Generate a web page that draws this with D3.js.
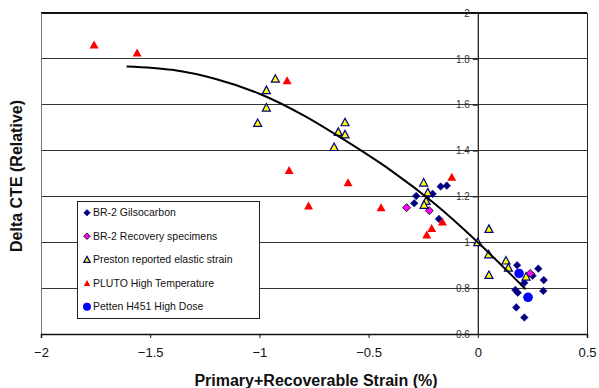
<!DOCTYPE html>
<html><head><meta charset="utf-8">
<script src="https://cdn.jsdelivr.net/npm/d3@7"></script>
<style>body{margin:0;background:#fff}svg{display:block;font-family:"Liberation Sans",Arial,sans-serif}</style>
</head><body><svg id="c" width="599" height="388"></svg>
<script>
const xTicks = [-2, -1.5, -1, -0.5, 0, 0.5];
const yTicks = [0.6, 0.8, 1, 1.2, 1.4, 1.6, 1.8, 2];
const seriesNames = ["BR-2 Gilsocarbon", "BR-2 Recovery specimens", "Preston reported elastic strain", "PLUTO High Temperature", "Petten H451 High Dose"];
const gilso = [[-0.282,1.202],[-0.291,1.17],[-0.207,1.211],[-0.17,1.243],[-0.142,1.247],[-0.178,1.102],[-0.225,1.208],[0.18,0.9],[0.277,0.885],[0.251,0.854],[0.302,0.835],[0.213,0.823],[0.172,0.792],[0.183,0.78],[0.3,0.788],[0.176,0.716],[0.213,0.672]];
const recovery = [[-0.326,1.151],[-0.222,1.138],[0.24,0.864]];
const preston = [[-0.927,1.713],[-0.968,1.663],[-0.968,1.587],[-1.008,1.52],[-0.608,1.523],[-0.639,1.481],[-0.608,1.47],[-0.658,1.415],[-0.248,1.26],[-0.229,1.217],[-0.237,1.18],[-0.246,1.163],[0.051,1.058],[0,1.0],[0.05,0.947],[0.129,0.92],[0.14,0.889],[0.051,0.857],[0.221,0.85]];
const pluto = [[-1.757,1.861],[-1.56,1.826],[-0.873,1.705],[-0.864,1.313],[-0.775,1.159],[-0.594,1.26],[-0.443,1.151],[-0.119,1.284],[-0.162,1.089],[-0.211,1.061],[-0.234,1.032]];
const petten = [[0.189,0.864],[0.23,0.76]];
const trend = [[-1.608,1.767],[-1.4,1.752],[-1.2,1.712],[-1.0,1.648],[-0.8,1.555],[-0.6,1.44],[-0.4,1.315],[-0.2,1.17],[0,1.0],[0.219,0.795]];

const svg = d3.select("#c");
const x = d3.scaleLinear().domain([-2, 0.5]).range([41, 587]);
const y = d3.scaleLinear().domain([0.6, 2]).range([334, 13]);

// gridlines
svg.append("g").selectAll("line").data(yTicks.filter(v => v > 0.6)).join("line")
  .attr("x1", x(-2)).attr("x2", x(0.5)).attr("y1", d => y(d)).attr("y2", d => y(d))
  .attr("stroke", d => d === 2 ? "#111" : "#333").attr("stroke-width", d => d === 2 ? 1.5 : 1).attr("shape-rendering", "crispEdges");
svg.append("line").attr("x1", x(-2)).attr("x2", x(-2)).attr("y1", y(2)).attr("y2", y(0.6)).attr("stroke", "#777").attr("shape-rendering", "crispEdges");
svg.append("line").attr("x1", x(0.5)).attr("x2", x(0.5)).attr("y1", y(2)).attr("y2", y(0.6)).attr("stroke", "#222").attr("shape-rendering", "crispEdges");

// x axis
const xAxis = svg.append("g").attr("transform", `translate(0,${y(0.6)})`)
  .call(d3.axisBottom(x).tickValues(xTicks).tickSize(4).tickFormat(d3.format("")));
xAxis.select(".domain").attr("stroke", "#111").attr("stroke-width", 1.5);
xAxis.selectAll(".tick line").attr("stroke", "#111");
xAxis.selectAll("text").attr("font-size", 13).attr("font-family", "Liberation Sans, Arial").attr("fill", "#111").attr("dy", "1.2em");

// y axis at x=0
const yAxis = svg.append("g").attr("transform", `translate(${x(0)},0)`)
  .call(d3.axisLeft(y).tickValues(yTicks).tickSize(5).tickPadding(3).tickFormat(d3.format("")));
yAxis.select(".domain").attr("stroke", "#111").attr("stroke-width", 1.2);
yAxis.selectAll(".tick line").attr("stroke", "#111");
yAxis.selectAll("text").attr("font-size", 10).attr("font-family", "Liberation Sans, Arial").attr("fill", "#333");

const tri = (w, h) => `M0,${-h * 0.55}L${w / 2},${h * 0.45}L${-w / 2},${h * 0.45}Z`;
const dia = r => `M0,${-r}L${r},0L0,${r}L${-r},0Z`;

const series = [
  {data: gilso, path: dia(3.8), fill: "#000080", stroke: "#000080", sw: 0.5},
  {data: recovery, path: dia(4), fill: "#FF00FF", stroke: "#202020", sw: 1},
  {data: preston, path: tri(8, 7.5), fill: "#FFFF00", stroke: "#000080", sw: 1.2},
  {data: pluto, path: tri(9, 8), fill: "#FF0000", stroke: "none", sw: 0},
  {data: petten, circle: true, fill: "#0000FF", stroke: "none", sw: 0}
];
series.forEach(s => {
  const g = svg.append("g");
  if (s.circle) {
    g.selectAll("circle").data(s.data).join("circle")
      .attr("cx", d => x(d[0])).attr("cy", d => y(d[1])).attr("r", 4.8).attr("fill", s.fill);
  } else {
    g.selectAll("path").data(s.data).join("path")
      .attr("d", s.path).attr("transform", d => `translate(${x(d[0])},${y(d[1])})`)
      .attr("fill", s.fill).attr("stroke", s.stroke).attr("stroke-width", s.sw);
  }
});

// trend line
svg.append("path").datum(trend)
  .attr("d", d3.line().x(d => x(d[0])).y(d => y(d[1])).curve(d3.curveCatmullRom))
  .attr("fill", "none").attr("stroke", "#000").attr("stroke-width", 2);

// legend
const lg = svg.append("g");
lg.append("rect").attr("x", 77.5).attr("y", 201.5).attr("width", 182).attr("height", 117)
  .attr("fill", "#fff").attr("stroke", "#222").attr("stroke-width", 1);
seriesNames.forEach((n, i) => {
  const cy = 212.7 + i * 23.5;
  const s = series[i];
  if (s.circle) lg.append("circle").attr("cx", 87).attr("cy", cy).attr("r", 4).attr("fill", s.fill);
  else {
    let p = i <= 1 ? dia(3.3) : tri(6.5, 6);
    lg.append("path").attr("d", p).attr("transform", `translate(87,${cy})`)
      .attr("fill", s.fill).attr("stroke", s.stroke).attr("stroke-width", s.sw);
  }
  lg.append("text").attr("x", 93).attr("y", cy).attr("dy", "0.35em")
    .attr("font-size", 10.5).attr("fill", "#111").text(n);
});

// titles
svg.append("text").attr("x", 316).attr("y", 386).attr("text-anchor", "middle")
  .attr("font-size", 16).attr("font-weight", "bold").attr("fill", "#111").text("Primary+Recoverable Strain (%)");
svg.append("text").attr("transform", "translate(22,176) rotate(-90)").attr("text-anchor", "middle")
  .attr("font-size", 16).attr("font-weight", "bold").attr("fill", "#111").text("Delta CTE (Relative)");
</script></body></html>
